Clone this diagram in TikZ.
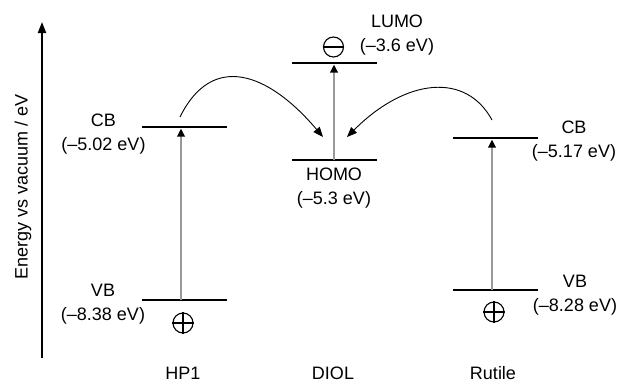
\documentclass[tikz,border=0pt]{standalone}
\usepackage{fontspec}
\setmainfont{Liberation Sans}
\usetikzlibrary{arrows.meta}
\tikzset{
  lvl/.style={fill=black, inner sep=0pt, minimum width=85pt, minimum height=2.8pt},
  lbl/.style={font=\fontsize{18}{24}\selectfont, align=center, inner sep=0pt},
  exc/.style={draw=black!40, line width=2.2pt, -{Triangle[length=8pt,width=7.5pt,color=black]}},
  transfer/.style={line width=0.9pt, -{Triangle[length=10pt,width=8pt]}},
  charge/.style={circle, draw, line width=1.1pt, minimum size=20pt, inner sep=0pt},
  axis/.style={line width=2pt, -{Triangle[length=11pt,width=8pt]}},
}
\begin{document}
\begin{tikzpicture}[x=1pt,y=-1pt]
\useasboundingbox (0,0) rectangle (619,383);
% axis
\coordinate (ax0) at (42,358);
\coordinate (ax1) at (42,22);
\draw[axis] (ax0) -- (ax1);
\node[lbl, rotate=90] (axl) at (23,187) {Energy vs vacuum / eV};
% levels
\node[lvl] (hcb) at (184.5,127) {};
\node[lvl] (hvb) at (184.5,300) {};
\node[lvl] (lumo) at (334.5,63) {};
\node[lvl] (homo) at (334.5,160) {};
\node[lvl] (rcb) at (495.5,138) {};
\node[lvl] (rvb) at (495.5,290) {};
% excitation arrows
\draw[exc] ([xshift=-3.5pt]hvb.center) -- ([xshift=-3.5pt]hcb.south);
\draw[exc] ([xshift=-0.5pt]homo.center) -- ([xshift=-0.5pt]lumo.south);
\draw[exc] ([xshift=-3.5pt]rvb.center) -- ([xshift=-3.5pt]rcb.south);
% charges
\node[charge] (hh) at (183,323) {};
\draw[line width=1.4pt] (hh.north) -- (hh.south) (hh.west) -- (hh.east);
\node[charge] (rh) at (494,312) {};
\draw[line width=1.4pt] (rh.north) -- (rh.south) (rh.west) -- (rh.east);
\node[charge] (le) at (333.5,47) {};
\draw[line width=2pt] (le.west) -- (le.east);
% transfer arrows
\coordinate (t1s) at (180,117);
\coordinate (t1e) at (323,137);
\draw[transfer] (t1s) .. controls (212,52) and (268,72) .. (t1e);
\coordinate (t2s) at (492,120);
\coordinate (t2e) at (347,137);
\draw[transfer] (t2s) .. controls (466,72) and (406,78) .. (t2e);
% labels
\node[lbl] (lhcb) at (103.5,134) {CB\\(–5.02 eV)};
\node[lbl] (lhvb) at (103,304.5) {VB\\(–8.38 eV)};
\node[lbl] (llumo) at (397,35.5) {LUMO\\(–3.6 eV)};
\node[lbl] (lhomo) at (334,188.5) {HOMO\\(–5.3 eV)};
\node[lbl] (lrcb) at (574,141.5) {CB\\(–5.17 eV)};
\node[lbl] (lrvb) at (575,295) {VB\\(–8.28 eV)};
\node[lbl] (nhp) at (183,373) {HP1};
\node[lbl] (ndiol) at (333,373) {DIOL};
\node[lbl] (nrut) at (493,373) {Rutile};
\end{tikzpicture}
\end{document}
